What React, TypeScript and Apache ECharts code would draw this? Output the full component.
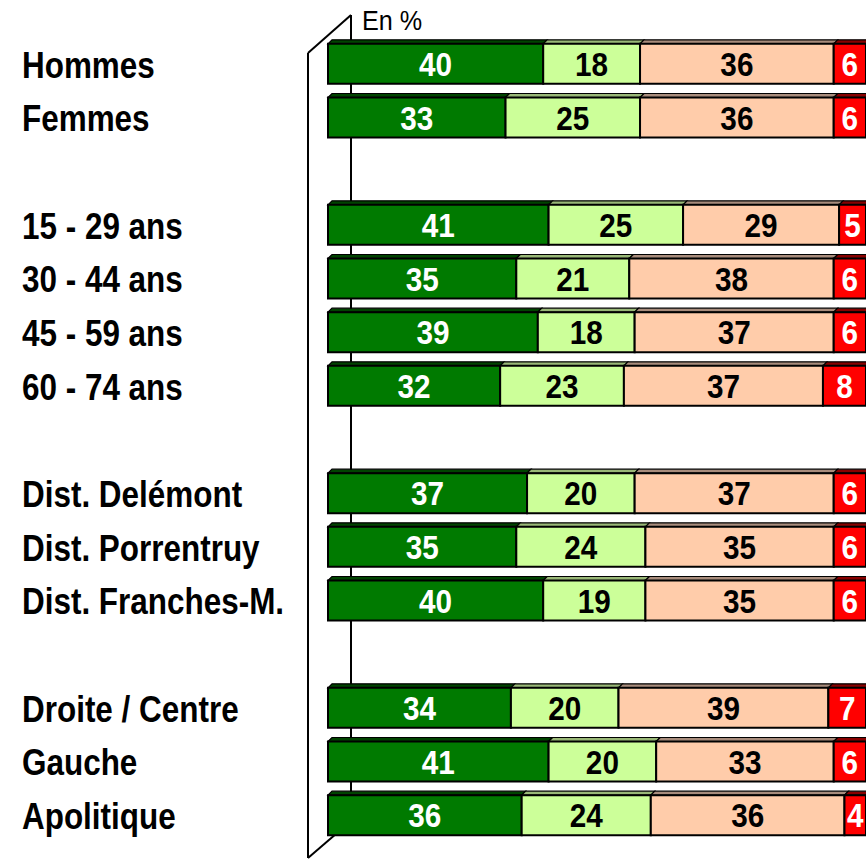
import React, { useEffect, useRef } from "react";
import * as echarts from "echarts";

const categories = [
  "Hommes",
  "Femmes",
  " ",
  "15 - 29 ans",
  "30 - 44 ans",
  "45 - 59 ans",
  "60 - 74 ans",
  "  ",
  "Dist. Delémont",
  "Dist. Porrentruy",
  "Dist. Franches-M.",
  "   ",
  "Droite / Centre",
  "Gauche",
  "Apolitique",
];

const tresSatisfait = [40, 33, null, 41, 35, 39, 32, null, 37, 35, 40, null, 34, 41, 36];
const plutotSatisfait = [18, 25, null, 25, 21, 18, 23, null, 20, 24, 19, null, 20, 20, 24];
const plutotInsatisfait = [36, 36, null, 29, 38, 37, 37, null, 37, 35, 35, null, 39, 33, 36];
const pasSatisfait = [6, 6, null, 5, 6, 6, 8, null, 6, 6, 6, null, 7, 6, 4];

const seriesNames = ["Très satisfait", "Plutôt satisfait", "Plutôt insatisfait", "Pas du tout satisfait"];
const seriesValues = [tresSatisfait, plutotSatisfait, plutotInsatisfait, pasSatisfait];
const frontColors = ["#007A00", "#CCFF99", "#FFCCAA", "#FF0000"];
const topColors = ["#004400", "#99B877", "#A88C7C", "#880000"];
const textColors = ["#FFFFFF", "#000000", "#000000", "#FFFFFF"];

const FONT = '"Liberation Sans", Arial, sans-serif';

export default function App() {
  const ref = useRef<HTMLDivElement>(null);

  useEffect(() => {
    if (!ref.current) return;
    const chart = echarts.init(ref.current, null, { renderer: "svg" });

    // cumulative starts built from the value arrays
    const cum = categories.map(() => 0);
    const series: any[] = seriesValues.map((vals, si) => {
      const data: any[] = [];
      vals.forEach((v, i) => {
        if (v == null) return;
        const start = cum[i];
        const end = start + v;
        cum[i] = end;
        data.push([i, start, end, v]);
      });
      return {
        type: "custom",
        name: seriesNames[si],
        z: 10 + si,
        encode: { x: [1, 2], y: 0 },
        data,
        renderItem: (params: any, api: any) => {
          const yi = api.value(0);
          const start = api.value(1);
          const end = api.value(2);
          const val = api.value(3);
          const p0 = api.coord([start, yi]);
          const p1 = api.coord([end, yi]);
          const h = 40;
          const d = 4;
          const x0 = p0[0];
          const x1 = p1[0];
          const yc = p0[1];
          const top = yc - h / 2;
          return {
            type: "group",
            children: [
              {
                type: "polygon",
                shape: {
                  points: [
                    [x0, top],
                    [x1, top],
                    [x1 + d, top - d],
                    [x0 + d, top - d],
                  ],
                },
                style: { fill: topColors[si], stroke: "#000", lineWidth: 1.2 },
              },
              {
                type: "rect",
                shape: { x: x0, y: top, width: x1 - x0, height: h },
                style: { fill: frontColors[si], stroke: "#000", lineWidth: 2 },
              },
              {
                type: "text",
                x: (x0 + x1) / 2,
                y: yc + 1,
                scaleX: 0.9,
                style: {
                  text: String(val),
                  x: 0,
                  y: 0,
                  align: "center",
                  verticalAlign: "middle",
                  fill: textColors[si],
                  fontSize: 33,
                  fontWeight: "bold",
                  fontFamily: FONT,
                },
              },
            ],
          };
        },
      };
    });

    // category labels, positioned by the category axis (condensed via scaleX)
    series.push({
      type: "custom",
      name: "labels",
      silent: true,
      z: 5,
      encode: { y: 0 },
      data: categories.map((c, i) => [i]).filter((d) => categories[d[0]].trim() !== ""),
      renderItem: (params: any, api: any) => {
        const yi = api.value(0);
        const p = api.coord([0, yi]);
        return {
          type: "text",
          x: 22,
          y: p[1] + 1,
          scaleX: 0.85,
          style: {
            text: categories[yi],
            x: 0,
            y: 0,
            align: "left",
            verticalAlign: "middle",
            fill: "#000",
            fontSize: 37,
            fontWeight: "bold",
            fontFamily: FONT,
          },
        };
      },
    });

    chart.setOption({
      animation: false,
      backgroundColor: "#FFFFFF",
      grid: { left: 328, top: 37, width: 542, height: 805, containLabel: false },
      xAxis: { type: "value", min: 0, max: 100, show: false },
      yAxis: {
        type: "category",
        inverse: true,
        data: categories,
        axisLine: { show: false },
        axisTick: { show: false },
        splitLine: { show: false },
        axisLabel: { show: false },
      },
      graphic: [
        { type: "line", z: 0, shape: { x1: 308, y1: 53, x2: 351, y2: 15 }, style: { stroke: "#000", lineWidth: 2 } },
        { type: "line", z: 0, shape: { x1: 351, y1: 15, x2: 351, y2: 822 }, style: { stroke: "#000", lineWidth: 2 } },
        { type: "line", z: 0, shape: { x1: 308, y1: 53, x2: 308, y2: 858 }, style: { stroke: "#000", lineWidth: 2 } },
        { type: "line", z: 0, shape: { x1: 308, y1: 858, x2: 351, y2: 821 }, style: { stroke: "#000", lineWidth: 2 } },
        {
          type: "text",
          z: 0,
          x: 362,
          y: 21,
          scaleX: 0.9,
          style: {
            text: "En %",
            x: 0,
            y: 0,
            fontSize: 28,
            fontFamily: FONT,
            fill: "#000",
            verticalAlign: "middle",
            align: "left",
          },
        },
      ],
      series,
    });

    return () => chart.dispose();
  }, []);

  return (
    <div
      ref={ref}
      style={{ position: "absolute", left: 0, top: 0, width: 866, height: 860 }}
    />
  );
}
